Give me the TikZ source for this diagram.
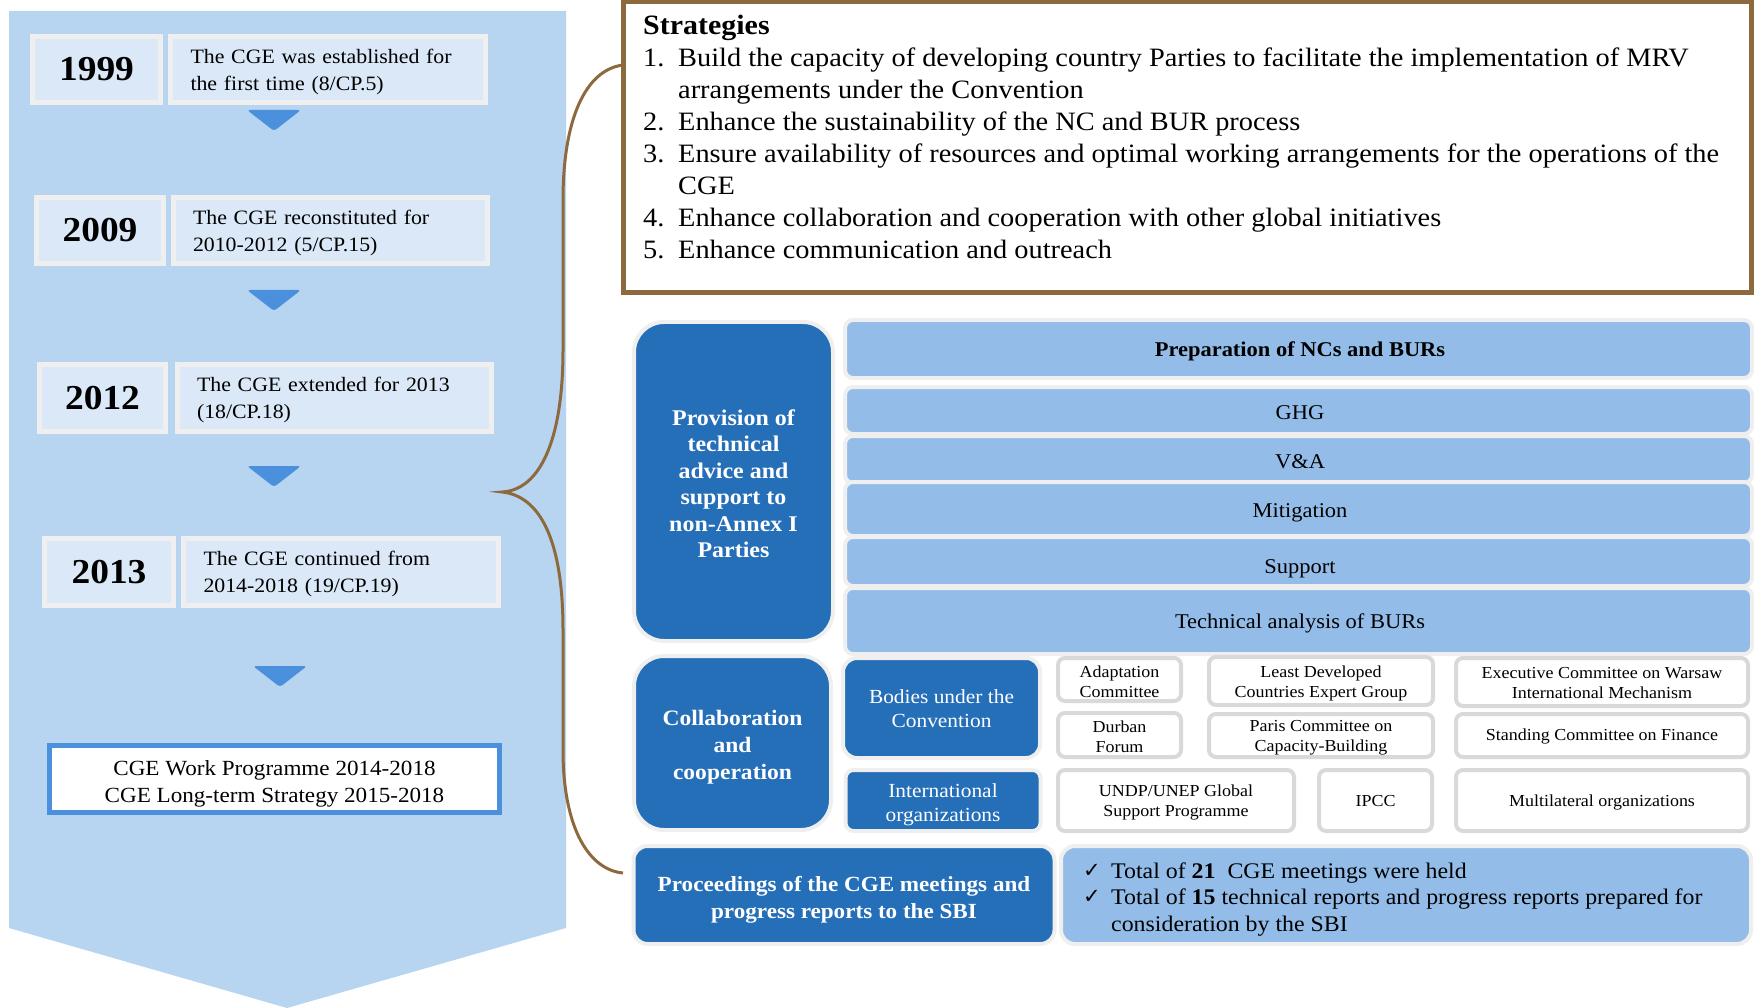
\documentclass[tikz,border=0pt]{standalone}
\usepackage{fontspec}
\setmainfont{Liberation Serif}[FakeStretch=1.07]
\newfontfamily\symfont{DejaVu Sans}
\definecolor{bgblue}{HTML}{B7D5F0}
\definecolor{yearfill}{HTML}{DBE8F7}
\definecolor{halo}{HTML}{EFEFEF}
\definecolor{arrowblue}{HTML}{4A90DC}
\definecolor{darkblue}{HTML}{256EB8}
\definecolor{barblue}{HTML}{93BDE8}
\definecolor{boxgray}{HTML}{D9D9D9}
\definecolor{brownline}{HTML}{8D6A3E}
\newcommand{\myfs}[2]{\fontsize{#1}{#2}\selectfont}
\begin{document}
\begin{tikzpicture}[x=1pt,y=-1pt,
  yearbox/.style={draw=halo, line width=5pt, fill=yearfill, inner sep=0pt, font=\myfs{35}{40}\bfseries},
  descbox/.style={draw=halo, line width=5pt, fill=yearfill, inner sep=0pt},
  desctext/.style={inner sep=0pt, align=left, text width=275pt, font=\myfs{20.4}{27}},
  downarrow/.style={fill=arrowblue, rounded corners=3pt},
  wpbox/.style={draw=arrowblue, line width=5pt, fill=white, inner sep=0pt},
  darkbox/.style={draw=halo, line width=4pt, fill=darkblue, inner sep=0pt},
  darktext/.style={text=white, align=center, inner sep=0pt},
  barbox/.style={draw=halo, line width=4pt, fill=barblue, rounded corners=8pt, inner sep=0pt, minimum width=907pt},
  bartext/.style={anchor=base, inner sep=0pt, font=\myfs{21}{26}},
  whitebox/.style={draw=boxgray, line width=4pt, fill=white, rounded corners=7pt, inner sep=0pt},
  whitetext/.style={align=center, inner sep=0pt, font=\myfs{16.8}{20}},
  plaintext/.style={align=center, inner sep=0pt},
  stratline/.style={anchor=base west, inner sep=0pt, font=\myfs{26.5}{32}},
  totline/.style={anchor=base west, inner sep=0pt, font=\myfs{22.3}{27}},
  checkmark/.style={anchor=base west, inner sep=0pt, font=\symfont\myfs{21}{27}},
]
\path[use as bounding box] (0,0) rectangle (1754,1008);
% left panel
\fill[bgblue] (9,11) -- (566,11) -- (566,928) -- (287,1008) -- (9,928) -- cycle;

\node[yearbox, minimum width=128pt, minimum height=66pt] (n1999) at (96.5,69.5) {1999};
\node[descbox, minimum width=315pt, minimum height=66pt] (d1999) at (328,69.5) {};
\node[desctext, yshift=-2pt] (d1999t) at (d1999) {The CGE was established for\\the first time (8/CP.5)};
\node[yearbox, minimum width=127pt, minimum height=66pt] (n2009) at (100,230.5) {2009};
\node[descbox, minimum width=314pt, minimum height=66pt] (d2009) at (330.5,230.5) {};
\node[desctext, yshift=-2pt] (d2009t) at (d2009) {The CGE reconstituted for\\2010-2012 (5/CP.15)};
\node[yearbox, minimum width=126pt, minimum height=67pt] (n2012) at (102.5,398) {2012};
\node[descbox, minimum width=314pt, minimum height=67pt] (d2012) at (334.5,398) {};
\node[desctext, yshift=-2pt] (d2012t) at (d2012) {The CGE extended for 2013\\(18/CP.18)};
\node[yearbox, minimum width=129pt, minimum height=67pt] (n2013) at (109,572) {2013};
\node[descbox, minimum width=315pt, minimum height=67pt] (d2013) at (341,572) {};
\node[desctext, yshift=-2pt] (d2013t) at (d2013) {The CGE continued from\\2014-2018 (19/CP.19)};

\fill[downarrow] (247,110) -- (301,110) -- (274,131) -- cycle;
\fill[downarrow] (247,290) -- (301,290) -- (274,311) -- cycle;
\fill[downarrow] (247,466) -- (301,466) -- (274,487) -- cycle;
\fill[downarrow] (253,666) -- (307,666) -- (280,687) -- cycle;

\node[wpbox, minimum width=450pt, minimum height=67pt] (wp) at (274.5,779) {};
\node[plaintext, font=\myfs{21.6}{27}, yshift=-4.5pt] (wpt) at (wp) {CGE Work Programme 2014-2018\\CGE Long-term Strategy 2015-2018};

% strategies
\node[draw=brownline, line width=5pt, fill=white, minimum width=1128pt, minimum height=291pt, inner sep=0pt] (stratbox) at (1187.5,147) {};
\coordinate (bracetop) at (623,65);
\coordinate (bracetip) at (502,492);
\coordinate (bracebot) at (623,873);
\draw[brownline, line width=3pt] (bracetop) .. controls (585,70) and (563,120) .. (563,200) -- (563,350) .. controls (563,440) and (540,490) .. (bracetip) .. controls (540,496) and (563,540) .. (563,630) -- (563,750) .. controls (563,830) and (590,870) .. (bracebot);

\node[stratline, font=\myfs{28}{32}\bfseries] (sh) at (643,35) {Strategies};
\node[stratline] (s1n) at (643,67) {1.};
\node[stratline] (s1a) at (678,67) {Build the capacity of developing country Parties to facilitate the implementation of MRV};
\node[stratline] (s1b) at (678,99) {arrangements under the Convention};
\node[stratline] (s2n) at (643,131) {2.};
\node[stratline] (s2a) at (678,131) {Enhance the sustainability of the NC and BUR process};
\node[stratline] (s3n) at (643,163) {3.};
\node[stratline] (s3a) at (678,163) {Ensure availability of resources and optimal working arrangements for the operations of the};
\node[stratline] (s3b) at (678,195) {CGE};
\node[stratline] (s4n) at (643,227) {4.};
\node[stratline] (s4a) at (678,227) {Enhance collaboration and cooperation with other global initiatives};
\node[stratline] (s5n) at (643,259) {5.};
\node[stratline] (s5a) at (678,259) {Enhance communication and outreach};

% right panel
\node[darkbox, rounded corners=30pt, minimum width=199pt, minimum height=319pt] (prov) at (733.5,481.5) {};
\node[darktext, font=\myfs{22.4}{26.5}\bfseries, yshift=-2pt] (provt) at (prov) {Provision of\\technical\\advice and\\support to\\non-Annex I\\Parties};
\node[darkbox, rounded corners=30pt, minimum width=197pt, minimum height=174pt] (collab) at (732.5,743) {};
\node[darktext, font=\myfs{22}{27}\bfseries, yshift=-4.5pt] (collabt) at (collab) {Collaboration\\and\\cooperation};

\node[barbox, minimum height=58pt] (prep) at (1298.5,349) {};
\node[bartext, font=\myfs{21}{26}\bfseries] (prept) at (1300,356.5) {Preparation of NCs and BURs};
\node[barbox, minimum height=47pt] (ghg) at (1298.5,410.5) {};
\node[bartext] (ghgt) at (1300,419) {GHG};
\node[barbox, minimum height=47pt] (va) at (1298.5,459.5) {};
\node[bartext] (vat) at (1300,468.5) {V\&A};
\node[barbox, minimum height=54pt] (mit) at (1298.5,509) {};
\node[bartext] (mitt) at (1300,517) {Mitigation};
\node[barbox, minimum height=49pt] (sup) at (1298.5,561.5) {};
\node[bartext] (supt) at (1300,573) {Support};
\node[barbox, minimum height=66pt] (ta) at (1298.5,621) {};
\node[bartext] (tat) at (1300,628.5) {Technical analysis of BURs};

\node[darkbox, rounded corners=14pt, minimum width=197pt, minimum height=100pt] (bodies) at (941.5,708) {};
\node[darktext, font=\myfs{20}{24}, yshift=-1pt] (bodiest) at (bodies) {Bodies under the\\Convention};
\node[darkbox, rounded corners=8pt, minimum width=195pt, minimum height=61pt] (intl) at (943,800.5) {};
\node[darktext, font=\myfs{20}{23.5}, yshift=-4pt] (intlt) at (intl) {International\\organizations};

\node[whitebox, minimum width=123pt, minimum height=43pt] (adapt) at (1119.5,679.5) {};
\node[whitetext, yshift=-2pt] (adaptt) at (adapt) {Adaptation\\Committee};
\node[whitebox, minimum width=123pt, minimum height=44pt] (durban) at (1119.5,735) {};
\node[whitetext, yshift=-2pt] (durbant) at (durban) {Durban\\Forum};
\node[whitebox, minimum width=224pt, minimum height=48pt] (ldc) at (1321,681) {};
\node[whitetext, yshift=-2.5pt] (ldct) at (ldc) {Least Developed\\Countries Expert Group};
\node[whitebox, minimum width=224pt, minimum height=43pt] (paris) at (1321,735.5) {};
\node[whitetext, yshift=-2pt] (parist) at (paris) {Paris Committee on\\Capacity-Building};
\node[whitebox, minimum width=292pt, minimum height=48pt] (exec) at (1602,682) {};
\node[whitetext, yshift=-1pt] (exect) at (exec) {Executive Committee on Warsaw\\International Mechanism};
\node[whitebox, minimum width=292pt, minimum height=43pt] (scf) at (1602,735.5) {};
\node[whitetext, yshift=-1pt] (scft) at (scf) {Standing Committee on Finance};
\node[whitebox, minimum width=236pt, minimum height=61pt] (undp) at (1176,800.5) {};
\node[whitetext, yshift=-2pt] (undpt) at (undp) {UNDP/UNEP Global\\Support Programme};
\node[whitebox, minimum width=113pt, minimum height=61pt] (ipcc) at (1375.5,800.5) {};
\node[whitetext, yshift=-1pt] (ipcct) at (ipcc) {IPCC};
\node[whitebox, minimum width=292pt, minimum height=61pt] (multi) at (1602,800.5) {};
\node[whitetext, yshift=-2pt] (multit) at (multi) {Multilateral organizations};

\node[darkbox, rounded corners=14pt, minimum width=421pt, minimum height=98pt] (proc) at (844,895) {};
\node[darktext, font=\myfs{21.6}{27}\bfseries, yshift=-4.5pt] (proct) at (proc) {Proceedings of the CGE meetings and\\progress reports to the SBI};
\node[draw=halo, line width=4pt, fill=barblue, rounded corners=14pt, minimum width=690pt, minimum height=98pt] (tots) at (1406,895) {};
\node[checkmark] (c1) at (1083,877) {✓};
\node[totline] (t1) at (1111,878) {Total of \textbf{21}\ \ CGE meetings were held};
\node[checkmark] (c2) at (1083,903) {✓};
\node[totline] (t2) at (1111,904) {Total of \textbf{15} technical reports and progress reports prepared for};
\node[totline] (t3) at (1111,931) {consideration by the SBI};
\end{tikzpicture}
\end{document}
